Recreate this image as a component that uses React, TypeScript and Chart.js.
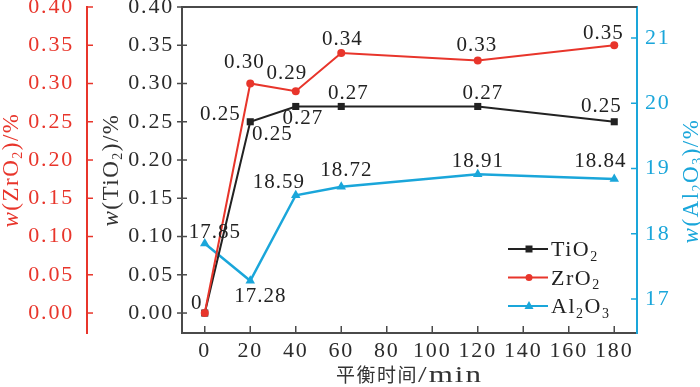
import React, { useEffect, useRef } from 'react';
import { Chart, registerables } from 'chart.js';

Chart.register(...registerables);

// ---------- data ----------
const times = [0, 20, 40, 60, 120, 180];
const tio2 = [0, 0.25, 0.27, 0.27, 0.27, 0.25];
const zro2 = [0, 0.3, 0.29, 0.34, 0.33, 0.35];
const al2o3 = [17.85, 17.28, 18.59, 18.72, 18.91, 18.84];

const xTicks = [0, 20, 40, 60, 80, 100, 120, 140, 160, 180];
const leftTicks = [0, 0.05, 0.1, 0.15, 0.2, 0.25, 0.3, 0.35, 0.4];
const rightTicks = [17, 18, 19, 20, 21];

// ---------- style ----------
const FONT = "'Liberation Serif', 'Times New Roman', serif";
const CJK = "'Noto Sans CJK SC', sans-serif";
const BLACK = '#222222';
const AXIS = '#4a4a4a';
const RED = '#e8352b';
const CYAN = '#1aa6da';

// label offsets (dx, dy) relative to the point, per dataset
const tiLabelOffsets: Array<Array<[number, number]>> = [
  [[-8, -10]],
  [[-30, -7], [22, 13]],
  [[7, 12]],
  [[7, -13]],
  [[5, -13]],
  [[-13, -15]],
];
const zrLabelOffsets: Array<Array<[number, number]>> = [
  [],
  [[-6, -21]],
  [[-9, -18]],
  [[1, -13]],
  [[-1, -15]],
  [[-11, -12]],
];
const alLabelOffsets: Array<Array<[number, number]>> = [
  [[10, -11]],
  [[10, 16]],
  [[-17, -13]],
  [[5, -16]],
  [[0, -13]],
  [[-14, -17]],
];

type Seg = { t: string; sub?: boolean; it?: boolean; font?: string; size?: number; sx?: number };

function drawRich(
  ctx: CanvasRenderingContext2D,
  segs: Seg[],
  cx: number,
  cy: number,
  size: number,
  color: string,
  rotate: boolean,
  spacing: number,
  align: 'center' | 'left' = 'center'
) {
  ctx.save();
  ctx.translate(cx, cy);
  if (rotate) ctx.rotate(-Math.PI / 2);
  ctx.fillStyle = color;
  ctx.textBaseline = 'alphabetic';
  ctx.textAlign = 'left';
  (ctx as any).letterSpacing = spacing + 'px';
  const fontFor = (s: Seg) =>
    `${s.it ? 'italic ' : ''}${s.sub ? Math.round(size * 0.62) : s.size || size}px ${s.font || FONT}`;
  const widths = segs.map((s) => {
    ctx.font = fontFor(s);
    return ctx.measureText(s.t).width * (s.sx || 1);
  });
  const total = widths.reduce((a, b) => a + b, 0);
  let x = align === 'center' ? -total / 2 : 0;
  const base = size * 0.34;
  segs.forEach((s, i) => {
    ctx.font = fontFor(s);
    const y = s.sub ? base + size * 0.2 : base;
    if (s.sx && s.sx !== 1) {
      ctx.save();
      ctx.translate(x, y);
      ctx.scale(s.sx, 1);
      ctx.fillText(s.t, 0, 0);
      ctx.restore();
    } else {
      ctx.fillText(s.t, x, y);
    }
    x += widths[i];
  });
  ctx.restore();
}

const fmt = (v: number) => (v === 0 ? '0' : v.toFixed(2));

const decorPlugin = {
  id: 'decor',
  beforeDraw(chart: any) {
    (chart.ctx as any).letterSpacing = '1.8px';
  },
  afterDraw(chart: any) {
    const ctx: CanvasRenderingContext2D = chart.ctx;
    const ca = chart.chartArea;
    const sx = chart.scales.x;
    const sTi = chart.scales.yTi;
    const sZr = chart.scales.yZr;
    const sAl = chart.scales.yAl;
    ctx.save();
    (ctx as any).letterSpacing = '0px';
    // top frame line
    ctx.strokeStyle = AXIS;
    ctx.lineWidth = 2;
    ctx.beginPath();
    ctx.moveTo(ca.left - 1, ca.top);
    ctx.lineTo(ca.right, ca.top);
    ctx.stroke();

    ctx.lineWidth = 1.5;
    // x ticks (inward)
    ctx.strokeStyle = AXIS;
    xTicks.forEach((v) => {
      const px = sx.getPixelForValue(v);
      ctx.beginPath();
      ctx.moveTo(px, ca.bottom);
      ctx.lineTo(px, ca.bottom - 7);
      ctx.stroke();
    });
    // TiO2 ticks (cross)
    leftTicks.forEach((v) => {
      const py = sTi.getPixelForValue(v);
      ctx.beginPath();
      ctx.moveTo(ca.left - 5, py);
      ctx.lineTo(ca.left + 5, py);
      ctx.stroke();
    });
    // ZrO2 ticks (to the right of its axis line)
    ctx.strokeStyle = RED;
    leftTicks.forEach((v) => {
      const py = sZr.getPixelForValue(v);
      ctx.beginPath();
      ctx.moveTo(sZr.right - 1, py);
      ctx.lineTo(sZr.right + 6, py);
      ctx.stroke();
    });
    // Al2O3 ticks (inward)
    ctx.strokeStyle = CYAN;
    rightTicks.forEach((v) => {
      const py = sAl.getPixelForValue(v);
      ctx.beginPath();
      ctx.moveTo(ca.right, py);
      ctx.lineTo(ca.right - 6, py);
      ctx.stroke();
    });
    ctx.restore();

    // value labels
    ctx.save();
    ctx.font = `21px ${FONT}`;
    (ctx as any).letterSpacing = '1px';
    ctx.fillStyle = BLACK;
    ctx.textAlign = 'center';
    ctx.textBaseline = 'middle';
    const sets: Array<[number, number[], Array<Array<[number, number]>>]> = [
      [0, tio2, tiLabelOffsets],
      [1, zro2, zrLabelOffsets],
      [2, al2o3, alLabelOffsets],
    ];
    sets.forEach(([di, vals, offs]) => {
      const meta = chart.getDatasetMeta(di);
      meta.data.forEach((el: any, i: number) => {
        (offs[i] || []).forEach(([dx, dy]) => {
          ctx.fillText(fmt(vals[i]), el.x + dx, el.y + dy);
        });
      });
    });
    ctx.restore();

    // axis titles
    const midY = (ca.top + ca.bottom) / 2;
    drawRich(ctx, [{ t: 'w', it: true }, { t: '(ZrO' }, { t: '2', sub: true }, { t: ')/%' }], sZr.left + 10, midY, 23, RED, true, 1.5);
    drawRich(ctx, [{ t: 'w', it: true }, { t: '(TiO' }, { t: '2', sub: true }, { t: ')/%' }], sTi.left + 23, midY, 23, '#333333', true, 1.5);
    drawRich(ctx, [{ t: 'w', it: true }, { t: '(Al' }, { t: '2', sub: true }, { t: 'O' }, { t: '3', sub: true }, { t: ')/%' }], sAl.right - 10, midY + 11, 23, CYAN, true, 1.5);
    drawRich(ctx, [{ t: '平衡时间', font: CJK, size: 19 }, { t: '/min', size: 23, sx: 1.35 }], (ca.left + ca.right) / 2, sx.bottom - 12, 22, '#333333', false, 1.5);

    // legend
    const entries: Array<{ segs: Seg[]; color: string; marker: string }> = [
      { segs: [{ t: 'TiO' }, { t: '2', sub: true }], color: BLACK, marker: 'rect' },
      { segs: [{ t: 'ZrO' }, { t: '2', sub: true }], color: RED, marker: 'circle' },
      { segs: [{ t: 'Al' }, { t: '2', sub: true }, { t: 'O' }, { t: '3', sub: true }], color: CYAN, marker: 'triangle' },
    ];
    const lx = ca.right - 129;
    entries.forEach((e, i) => {
      const y = ca.bottom - 84 + i * 28.5;
      ctx.save();
      ctx.strokeStyle = e.color;
      ctx.fillStyle = e.color;
      ctx.lineWidth = 2;
      ctx.beginPath();
      ctx.moveTo(lx, y);
      ctx.lineTo(lx + 40, y);
      ctx.stroke();
      const mx = lx + 21;
      ctx.beginPath();
      if (e.marker === 'rect') ctx.rect(mx - 3.5, y - 3.5, 7, 7);
      else if (e.marker === 'circle') ctx.arc(mx, y, 3.5, 0, Math.PI * 2);
      else {
        ctx.moveTo(mx, y - 5);
        ctx.lineTo(mx + 4.5, y + 3);
        ctx.lineTo(mx - 4.5, y + 3);
        ctx.closePath();
      }
      ctx.fill();
      ctx.restore();
      drawRich(ctx, e.segs, lx + 43, y, 22, BLACK, false, 1.5, 'left');
    });
  },
};

export default function App() {
  const ref = useRef<HTMLCanvasElement | null>(null);

  useEffect(() => {
    if (!ref.current) return;
    const toXY = (vals: number[]) => times.map((t, i) => ({ x: t, y: vals[i] }));
    const tickFont = { family: FONT, size: 22 };
    const noGrid = { display: false, drawTicks: false, drawOnChartArea: false };
    const chart = new Chart(ref.current, {
      type: 'line',
      data: {
        datasets: [
          {
            label: 'TiO₂',
            data: toXY(tio2),
            yAxisID: 'yTi',
            borderColor: BLACK,
            backgroundColor: BLACK,
            borderWidth: 2,
            pointStyle: 'rect',
            pointRadius: 5,
            pointBorderWidth: 0,
            order: 1,
          },
          {
            label: 'ZrO₂',
            data: toXY(zro2),
            yAxisID: 'yZr',
            borderColor: RED,
            backgroundColor: RED,
            borderWidth: 2,
            pointStyle: 'circle',
            pointRadius: 4,
            pointBorderWidth: 0,
            order: 0,
          },
          {
            label: 'Al₂O₃',
            data: toXY(al2o3),
            yAxisID: 'yAl',
            borderColor: CYAN,
            backgroundColor: CYAN,
            borderWidth: 2.5,
            pointStyle: 'triangle',
            pointRadius: 5.5,
            pointBorderWidth: 0,
            order: 2,
          },
        ],
      },
      options: {
        responsive: false,
        animation: false,
        layout: { padding: { top: 7, left: 0, right: 0, bottom: 0 } },
        plugins: { legend: { display: false }, tooltip: { enabled: false } },
        elements: { line: { tension: 0 } },
        scales: {
          x: {
            type: 'linear',
            min: -10,
            max: 190,
            grid: noGrid,
            border: { display: true, color: AXIS, width: 2 },
            ticks: { font: tickFont, color: '#2b2b2b', padding: 5, callback: (v: any) => String(v) },
            afterBuildTicks: (s: any) => {
              s.ticks = xTicks.map((v) => ({ value: v }));
            },
            afterFit: (s: any) => {
              s.height = 54;
              s.paddingLeft = 0;
              s.paddingRight = 0;
            },
          },
          yTi: {
            type: 'linear',
            position: 'left',
            weight: 0,
            min: -0.0261,
            max: 0.4,
            grid: noGrid,
            border: { display: true, color: AXIS, width: 2 },
            ticks: { font: tickFont, color: '#2b2b2b', padding: 8, callback: (v: any) => Number(v).toFixed(2) },
            afterBuildTicks: (s: any) => {
              s.ticks = leftTicks.map((v) => ({ value: v }));
            },
            afterFit: (s: any) => {
              s.width = 95;
              s.paddingTop = 0;
              s.paddingBottom = 0;
            },
          },
          yZr: {
            type: 'linear',
            position: 'left',
            weight: 1,
            min: -0.0261,
            max: 0.4,
            grid: noGrid,
            border: { display: true, color: RED, width: 2 },
            ticks: { font: tickFont, color: RED, padding: 13, callback: (v: any) => Number(v).toFixed(2) },
            afterBuildTicks: (s: any) => {
              s.ticks = leftTicks.map((v) => ({ value: v }));
            },
            afterFit: (s: any) => {
              s.width = 87;
              s.paddingTop = 0;
              s.paddingBottom = 0;
            },
          },
          yAl: {
            type: 'linear',
            position: 'right',
            min: 16.479,
            max: 21.475,
            grid: noGrid,
            border: { display: true, color: CYAN, width: 2 },
            ticks: { font: tickFont, color: CYAN, padding: 8, callback: (v: any) => String(v) },
            afterBuildTicks: (s: any) => {
              s.ticks = rightTicks.map((v) => ({ value: v }));
            },
            afterFit: (s: any) => {
              s.width = 63;
              s.paddingTop = 0;
              s.paddingBottom = 0;
            },
          },
        },
      } as any,
      plugins: [decorPlugin],
    });
    return () => chart.destroy();
  }, []);

  return (
    <div style={{ position: 'absolute', left: 0, top: 0, width: 700, height: 387, background: '#fff' }}>
      <canvas ref={ref} width={700} height={387} />
    </div>
  );
}
